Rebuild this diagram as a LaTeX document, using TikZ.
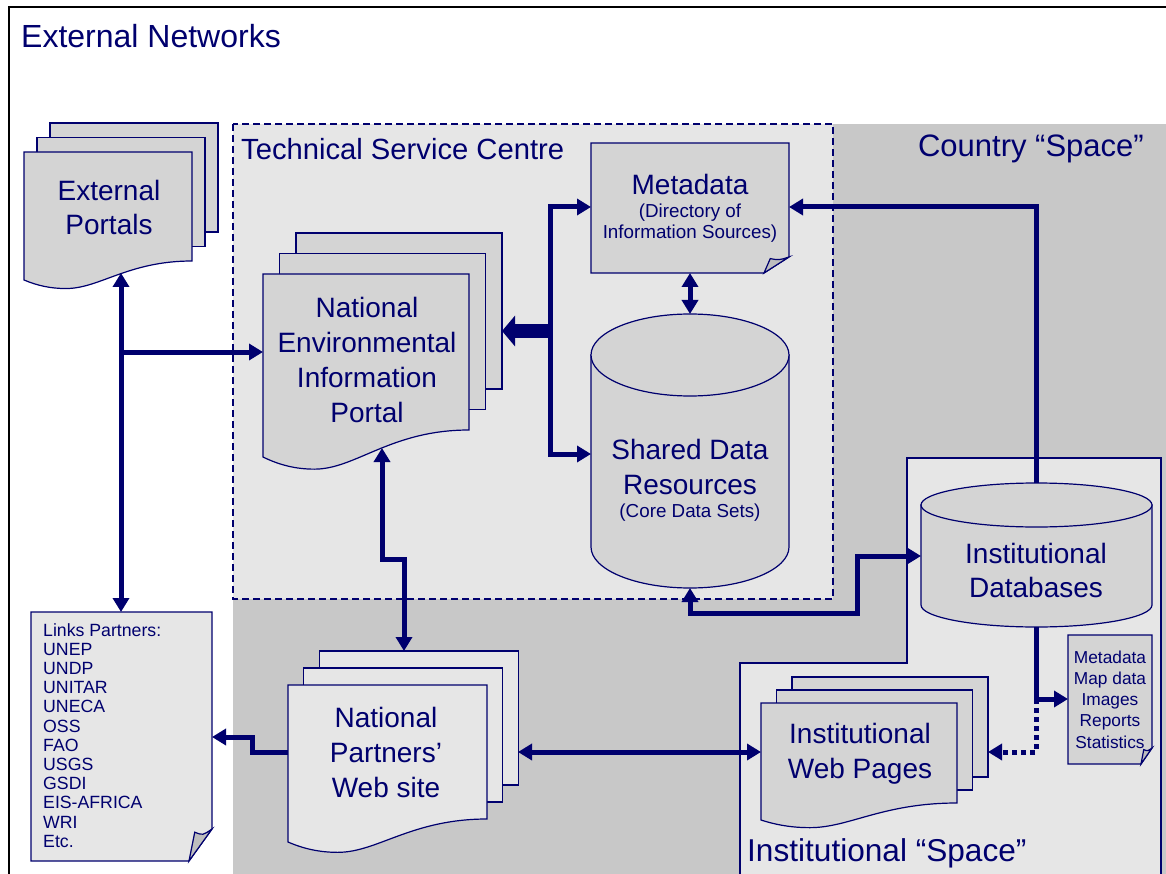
\documentclass[tikz,border=0pt]{standalone}
\usepackage{fontspec}
\setmainfont{Liberation Sans}
\usetikzlibrary{arrows.meta}

\definecolor{navy}{RGB}{0,0,110}
\definecolor{countrygrey}{RGB}{200,200,200}
\definecolor{palegrey}{RGB}{230,230,230}
\definecolor{sheetgrey}{RGB}{212,212,212}
\definecolor{foldgrey}{RGB}{190,190,190}

\newcommand\bigtxt[1]{\fontsize{#1}{36}\selectfont}
\newcommand\midtxt{\fontsize{28}{34.7}\selectfont}
\newcommand\smalltxt{\fontsize{18.8}{21}\selectfont}
\newcommand\listtxt{\fontsize{17.7}{19.2}\selectfont}
\newcommand\datatxt{\fontsize{17.3}{21.3}\selectfont}

\tikzset{
  sheet/.style={draw=navy, line width=1.2pt},
  link/.style={draw=navy, line width=5pt},
  dotlink/.style={link, dash pattern=on 5pt off 4pt},
  fatlink/.style={draw=navy, line width=14pt, -{Triangle[length=13pt,width=30pt]}},
  txt/.style={text=navy, align=center, inner sep=0pt},
}

% #1 fill, #2 left, #3 top, #4 width, #5 height, #6 dx, #7 dy, #8 wave
\newcommand\docstack[8]{
  \foreach \k in {2,1}
    \filldraw[sheet, fill=#1] ({#2+\k*#6},{#3-\k*#7}) rectangle ++(#4,#5);
  \filldraw[sheet, fill=#1] (#2,#3) -- ++(#4,0) -- ++(0,#5)
    .. controls ({#2+0.62*#4},{#3+#5}) and ({#2+0.45*#4},{#3+#5+1.45*#8}) .. ({#2+0.25*#4},{#3+#5+1.45*#8})
    .. controls ({#2+0.16*#4},{#3+#5+1.45*#8}) and ({#2+0.08*#4},{#3+#5+1.3*#8}) .. (#2,{#3+#5+#8}) -- cycle;
}

% #1 centre x, #2 top y, #3 bottom y, #4 x radius, #5 y radius
\newcommand\drum[5]{
  \filldraw[sheet, fill=sheetgrey] ({#1-#4},#2) -- ({#1-#4},#3) arc[start angle=180, end angle=0, x radius=#4, y radius=#5] -- ({#1+#4},#2) -- cycle;
  \filldraw[sheet, fill=sheetgrey] (#1,#2) ellipse[x radius=#4, y radius=#5];
}

% #1 fill, #2 left, #3 top, #4 right, #5 bottom, #6 #7 fold
\newcommand\foldnote[7]{
  \filldraw[sheet, fill=#1] (#2,#3) -- (#4,#3) -- (#4,{#5-#7}) -- ({#4-#6},#5) -- (#2,#5) -- cycle;
  \filldraw[sheet, fill=foldgrey] ({#4-#6},#5) -- ({#4-0.75*#6},{#5-0.9*#7}) .. controls ({#4-0.4*#6},{#5-0.8*#7}) .. (#4,{#5-#7}) -- cycle;
}

\begin{document}
\begin{tikzpicture}[x=1pt, y=-1pt, >={Triangle[length=14pt,width=16pt]}]
\useasboundingbox (0,0) rectangle (1166,874);
\fill[white] (0,0) rectangle (1166,874);
\draw[line width=1.5pt] (9,880) -- (9,7) -- (1170,7);

% spaces
\fill[countrygrey] (233,124) rectangle (1170,880);
\filldraw[sheet, fill=palegrey] (907,458) -- (1161,458) -- (1161,880) -- (740,880) -- (740,663) -- (907,663) -- cycle;
\filldraw[fill=palegrey, draw=navy, line width=2.5pt, dash pattern=on 7pt off 4pt] (233,124) rectangle (833,599);

\docstack{sheetgrey}{24}{152}{168}{109}{13}{14.5}{19}
\docstack{sheetgrey}{263}{274}{206}{156}{16.5}{20.5}{27}
\docstack{palegrey}{288}{685}{199}{134}{15.7}{17}{23}
\docstack{sheetgrey}{761}{703}{196}{100}{15.5}{13}{17}
\foldnote{sheetgrey}{591}{143}{789}{273}{25}{16}
\foldnote{palegrey}{31}{612}{212}{861}{23}{32}
\foldnote{sheetgrey}{1068}{635}{1152}{764}{11}{16}
\drum{690}{355}{547}{99}{41}
\drum{1036.5}{505}{605}{115.5}{22}

\node[txt, anchor=west, font=\bigtxt{32}] (extnet) at (21,36) {External Networks};
\node[txt, anchor=west, font=\bigtxt{29.2}] (tsc) at (241,149) {Technical Service Centre};
\node[txt, anchor=east, font=\bigtxt{31}] (country) at (1144,149) {Country “Space”};
\node[txt, anchor=west, font=\bigtxt{31.6}] (instspace) at (747,853) {Institutional “Space”};

\node[txt, font=\midtxt] (portals) at (109,207.5) {External\\Portals};
\node[txt, font=\midtxt] (neip) at (367,360) {National\\Environmental\\Information\\Portal};
\node[txt, font=\midtxt] (meta) at (690,184) {Metadata};
\node[txt, font=\smalltxt] (metasub) at (690,223.5) {(Directory of\\Information Sources)};
\node[txt, font=\midtxt] (shared) at (690,467) {Shared Data\\Resources};
\node[txt, font=\smalltxt] (core) at (690,513) {(Core Data Sets)};
\node[txt, font=\midtxt] (idb) at (1036,570.5) {Institutional\\Databases};
\node[txt, font=\midtxt] (np) at (386,752.5) {National\\Partners’\\Web site};
\node[txt, font=\midtxt] (iwp) at (860,754) {Institutional\\Web Pages};
\node[txt, font=\listtxt, align=left, anchor=north west] (links) at (43,623)
  {Links Partners:\\UNEP\\UNDP\\UNITAR\\UNECA\\OSS\\FAO\\USGS\\GSDI\\EIS-AFRICA\\WRI\\Etc.};
\node[txt, font=\datatxt] (datalist) at (1110,699.5) {Metadata\\Map data\\Images\\Reports\\Statistics};

\coordinate (portals-s) at (121,273);
\coordinate (links-n) at (121,612);
\coordinate (neip-w) at (263,352);
\coordinate (neip-s) at (382,448);
\coordinate (neip-e) at (502,331);
\coordinate (np-n) at (404,651);
\coordinate (trunk) at (550,331);
\coordinate (meta-w) at (591,207);
\coordinate (meta-e) at (789,207);
\coordinate (meta-s) at (690,273);
\coordinate (shared-n) at (690,314);
\coordinate (shared-w) at (591,454);
\coordinate (shared-s) at (690,588);
\coordinate (idb-n) at (1036,483);
\coordinate (idb-w) at (921,556);
\coordinate (idb-s) at (1036,627);
\coordinate (list-w) at (1068,699);
\coordinate (iwp-e) at (988,752);
\coordinate (iwp-w) at (761,752);
\coordinate (np-e) at (518,752);
\coordinate (np-w) at (288,752);
\coordinate (links-e) at (212,737);

\draw[link,<->] (portals-s) -- (links-n);
\draw[link,->] (portals-s |- neip-w) -- (neip-w);
\draw[link,<->] (neip-s) -- ++(0,111) -| (np-n);
\draw[link,<->] (meta-w) -| (trunk) |- (shared-w);
\draw[fatlink] (trunk) -- (neip-e);
\draw[link,<->] (meta-s) -- (shared-n);
\draw[link,->] (idb-n) |- (meta-e);
\draw[link,<->] (shared-s) |- (857,613) |- (idb-w);
\draw[link,->] (idb-s) |- (list-w);
\draw[dotlink,->] (idb-s |- list-w) |- (iwp-e);
\draw[link,<->] (np-e) -- (iwp-w);
\draw[link,->] (np-w) -- ++(-36,0) |- (links-e);
\end{tikzpicture}
\end{document}
